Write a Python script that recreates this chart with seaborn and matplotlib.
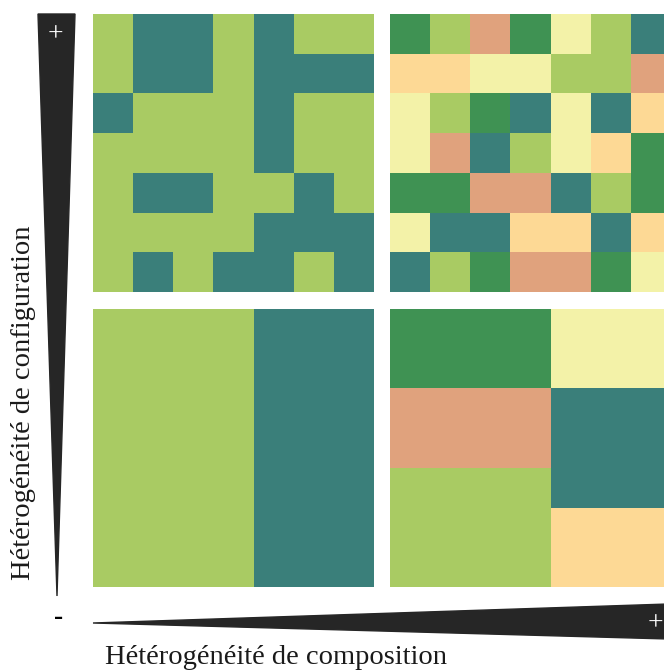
import numpy as np
import matplotlib
matplotlib.use('Agg')
import matplotlib.pyplot as plt
from matplotlib.colors import ListedColormap
from matplotlib.patches import Polygon
import seaborn as sb

# codes des couleurs
categories = ['vert_clair', 'bleu_vert', 'vert_fonce', 'saumon', 'jaune', 'orange']
couleurs = ['#a9cb63', '#3a7f7a', '#3f9253', '#e0a27d', '#f3f2a8', '#fdd995']

# haut gauche : 2 classes, configuration heterogene
grille_hg = [[0, 1, 1, 0, 1, 0, 0],
             [0, 1, 1, 0, 1, 1, 1],
             [1, 0, 0, 0, 1, 0, 0],
             [0, 0, 0, 0, 1, 0, 0],
             [0, 1, 1, 0, 0, 1, 0],
             [0, 0, 0, 0, 1, 1, 1],
             [0, 1, 0, 1, 1, 0, 1]]

# haut droite : 6 classes, configuration heterogene
grille_hd = [[2, 0, 3, 2, 4, 0, 1],
             [5, 5, 4, 4, 0, 0, 3],
             [4, 0, 2, 1, 4, 1, 5],
             [4, 3, 1, 0, 4, 5, 2],
             [2, 2, 3, 3, 1, 0, 2],
             [4, 1, 1, 5, 5, 1, 5],
             [1, 0, 2, 3, 3, 2, 4]]

# bas gauche : 2 classes, configuration homogene
grille_bg = [[0, 0, 0, 0, 1, 1, 1]] * 7

# bas droite : 6 classes, configuration homogene
grille_bd = [[2, 2, 2, 2, 4, 4, 4],
             [2, 2, 2, 2, 4, 4, 4],
             [3, 3, 3, 3, 1, 1, 1],
             [3, 3, 3, 3, 1, 1, 1],
             [0, 0, 0, 0, 1, 1, 1],
             [0, 0, 0, 0, 5, 5, 5],
             [0, 0, 0, 0, 5, 5, 5]]

titre_x = 'Hétérogénéité de composition'
titre_y = 'Hétérogénéité de configuration'

W, H = 664, 671
fig = plt.figure(figsize=(W / 100, H / 100), dpi=100)
cmap = ListedColormap(couleurs)

def panneau(grille, x0, y0):
    ax = fig.add_axes([x0 / W, 1 - (y0 + 278) / H, 281 / W, 278 / H])
    sb.heatmap(np.array(grille), cmap=cmap, vmin=-0.5, vmax=len(couleurs) - 0.5,
               cbar=False, square=False, xticklabels=False, yticklabels=False, ax=ax)
    ax.set_xlabel('')
    ax.set_ylabel('')
    return ax

panneau(grille_hg, 93, 14)
panneau(grille_hd, 390, 14)
panneau(grille_bg, 93, 309)
panneau(grille_bd, 390, 309)

# fleches triangulaires
fond = fig.add_axes([0, 0, 1, 1], zorder=-1)
fond.set_xlim(0, W)
fond.set_ylim(H, 0)
fond.axis('off')
fond.add_patch(Polygon([(38, 14), (75, 14), (57, 596)], closed=True, color='#262626'))
fond.add_patch(Polygon([(93, 623), (668, 604), (668, 639)], closed=True, color='#262626'))
fond.text(55, 35, '+', color='white', ha='center', va='center', fontsize=20, family='Liberation Serif')
fond.text(655, 624, '+', color='white', ha='center', va='center', fontsize=20, family='Liberation Serif')
fond.text(59, 618, '–', color='black', ha='center', va='center', fontsize=13,
          family='DejaVu Sans', fontweight='bold')

fond.text(276, 657, titre_x, ha='center', va='center', fontsize=20.5, family='Liberation Serif',
          color='#1a1a1a')
fond.text(24, 403, titre_y, ha='center', va='center', rotation=90, fontsize=20.5,
          family='Liberation Serif', color='#1a1a1a')

plt.savefig('out.png', dpi=100)
